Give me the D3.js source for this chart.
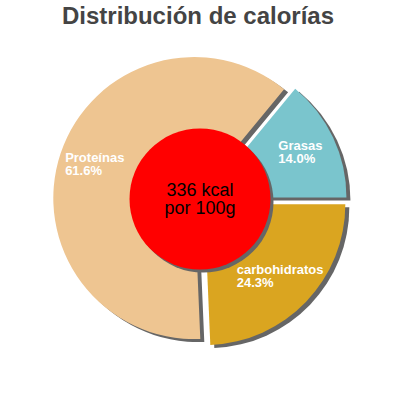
<!DOCTYPE html>
<html>
<head>
<meta charset="utf-8">
<script src="https://cdn.jsdelivr.net/npm/d3@7"></script>
<style>
	body { margin: 0; background: #fff; }
	text { font-family: "Liberation Sans", Arial, sans-serif; }
</style>
</head>
<body>
<div id="chart"></div>
<script>
const categories = ["Grasas", "Proteínas", "carbohidratos"];
const percentages = [14.0, 61.6, 24.3];
const colors = ["#7AC5CD", "#EEC591", "#DAA520"];
const kcal = 336;
const centerLines = [kcal + " kcal", "por 100g"];
const title = "Distribución de calorías";

const width = 400;
const height = 400;
const cx = 200;
const cy = 200;
const radius = 141;
const explode = 6;
const labelRadius = 105;
const shadow = [4, 3];

const svg = d3
	.select("#chart")
	.append("svg")
	.attr("width", width)
	.attr("height", height);

svg
	.append("text")
	.attr("x", 198)
	.attr("y", 24)
	.attr("text-anchor", "middle")
	.attr("font-size", 24)
	.attr("font-weight", "bold")
	.attr("fill", "#444")
	.text(title);

// counter-clockwise from 3 o'clock
const pie = d3
	.pie()
	.sort(null)
	.startAngle(Math.PI / 2)
	.endAngle(Math.PI / 2 - 2 * Math.PI);

const arcs = pie(percentages);
const arc = d3.arc().innerRadius(0).outerRadius(radius);

const mid = d => (d.startAngle + d.endAngle) / 2;
const shift = (d, r) => [cx + Math.sin(mid(d)) * r, cy - Math.cos(mid(d)) * r];

const g = svg.append("g");

// shadows first
g.selectAll("path.shadow")
	.data(arcs)
	.join("path")
	.attr("class", "shadow")
	.attr("d", arc)
	.attr("fill", "#666")
	.attr("transform", d => {
		const [x, y] = shift(d, explode);
		return `translate(${x + shadow[0]},${y + shadow[1]})`;
	});

g.selectAll("path.slice")
	.data(arcs)
	.join("path")
	.attr("class", "slice")
	.attr("d", arc)
	.attr("fill", (d, i) => colors[i])
	.attr("transform", d => {
		const [x, y] = shift(d, explode);
		return `translate(${x},${y})`;
	});

// labels, two lines, left aligned inside a block centred on the bisector
const labels = g
	.selectAll("text.label")
	.data(arcs)
	.join("text")
	.attr("class", "label")
	.attr("font-size", 13)
	.attr("font-weight", "bold")
	.attr("fill", "#fff");

labels.each(function (d, i) {
	const t = d3.select(this);
	const [x, y] = shift(d, labelRadius + explode);
	const l1 = t.append("tspan").attr("y", y - 3).text(categories[i]);
	const l2 = t.append("tspan").attr("y", y + 10).text(percentages[i].toFixed(1) + "%");
	const w = Math.max(l1.node().getComputedTextLength(), l2.node().getComputedTextLength());
	l1.attr("x", x - w / 2);
	l2.attr("x", x - w / 2);
});

// centre disc
const innerR = radius * 0.5;
svg
	.append("circle")
	.attr("cx", cx + 3)
	.attr("cy", cy + 2)
	.attr("r", innerR)
	.attr("fill", "#666");

svg
	.append("circle")
	.attr("cx", cx)
	.attr("cy", cy - 1)
	.attr("r", innerR)
	.attr("fill", "#FF0000");

svg
	.append("text")
	.attr("text-anchor", "middle")
	.attr("font-size", 18)
	.attr("fill", "#000")
	.selectAll("tspan")
	.data(centerLines)
	.join("tspan")
	.attr("x", cx)
	.attr("y", (d, i) => 196 + i * 18)
	.text(d => d);
</script>
</body>
</html>
